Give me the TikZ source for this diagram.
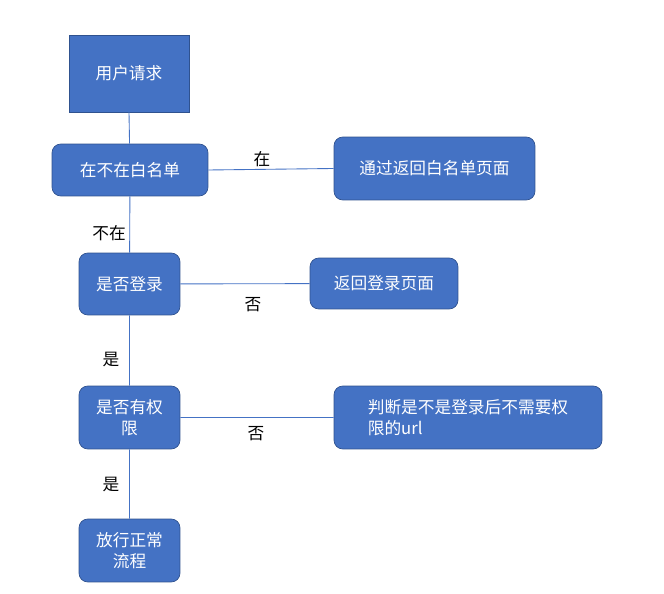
\documentclass[tikz,border=0pt]{standalone}
\usepackage{fontspec}
\setmainfont{Noto Sans CJK SC}
\definecolor{boxblue}{HTML}{4472C4}
\definecolor{boxline}{HTML}{2F528F}
\tikzset{
  box/.style={draw=boxline,fill=boxblue,text=white,rounded corners=5pt,align=center,font=\fontsize{9.5}{12}\selectfont},
  link/.style={draw=boxblue,line width=0.5pt},
  lbl/.style={font=\fontsize{9.5}{12}\selectfont}
}
\begin{document}
\begin{tikzpicture}[x=0.02cm,y=-0.02cm]
\useasboundingbox (0,0) rectangle (664,594);
\node[box,rounded corners=0pt,minimum width=120\pgflinewidth,text width=2cm] (req) at (129,73.5) {};
\draw[draw=boxline,fill=boxblue] (69,35) rectangle (189,112);
\node[text=white,font=\fontsize{9.5}{12}\selectfont] (reqt) at (129,73.5) {用户请求};
\node[box,minimum width=3.12cm,minimum height=1.04cm] (white) at (130,170) {在不在白名单};
\node[box,minimum width=4.02cm,minimum height=1.26cm] (pass) at (434.5,168.5) {通过返回白名单页面};
\node[box,minimum width=2.02cm,minimum height=1.24cm] (login) at (129.5,284) {是否登录};
\node[box,minimum width=2.96cm,minimum height=1.02cm] (loginpage) at (384,283.5) {返回登录页面};
\node[box,minimum width=2.02cm,minimum height=1.26cm] (perm) at (129.5,417.5) {是否有权\\限};
\node[box,minimum width=5.36cm,minimum height=1.26cm,align=left] (judge) at (468,417.5) {判断是不是登录后不需要权\\限的url};
\node[box,minimum width=2.02cm,minimum height=1.26cm] (flow) at (129.5,550.5) {放行正常\\流程};
\node[lbl] at (262,159) {在};
\node[lbl] at (109,233) {不在};
\node[lbl] at (253,305) {否};
\node[lbl] at (111,360) {是};
\node[lbl] at (256,434) {否};
\node[lbl] at (111,485) {是};
\path[link]
  (129,112) -- (white)
  (white) -- (login)
  (login) -- (perm)
  (perm) -- (flow)
  (white.east) -- (pass.west)
  (login) -- (loginpage)
  (perm) -- (judge);
\end{tikzpicture}
\end{document}
